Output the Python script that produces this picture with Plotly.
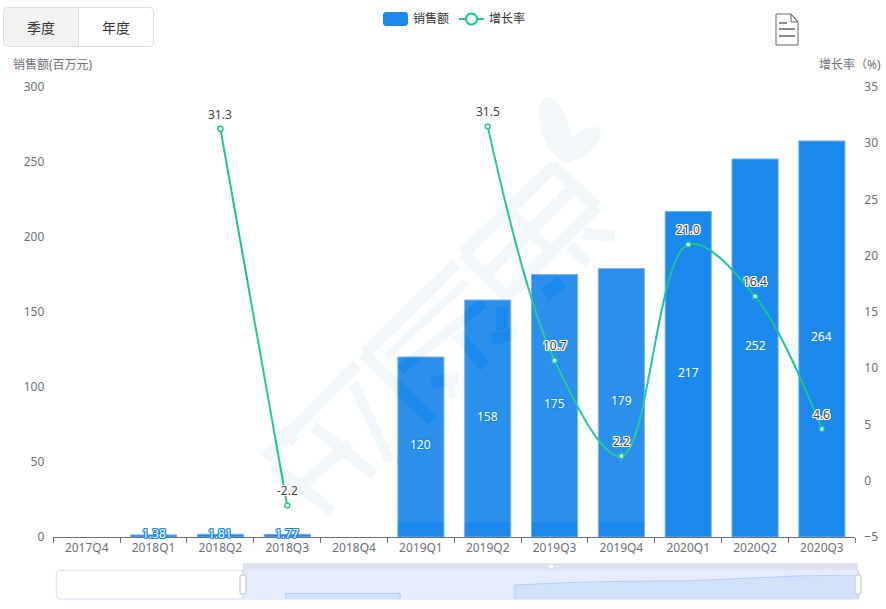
import math
import plotly.graph_objects as go

## Datos
quarters = ['2017Q4', '2018Q1', '2018Q2', '2018Q3', '2018Q4', '2019Q1',
            '2019Q2', '2019Q3', '2019Q4', '2020Q1', '2020Q2', '2020Q3']
sales = [None, 1.38, 1.81, 1.77, None, 120, 158, 175, 179, 217, 252, 264]
sales_labels = ['', '1.38', '1.81', '1.77', '', '120', '158', '175', '179', '217', '252', '264']
growth = [None, None, 31.3, -2.2, None, None, 31.5, 10.7, 2.2, 21.0, 16.4, 4.6]
growth_labels = ['', '', '31.3', '-2.2', '', '', '31.5', '10.7', '2.2', '21.0', '16.4', '4.6']
sales_ticks = [0, 50, 100, 150, 200, 250, 300]
growth_ticks = [-5, 0, 5, 10, 15, 20, 25, 30, 35]
preview_x = [3, 4, 5, 6, 7, 8, 9, 10, 11, 12, 13, 14]
preview_base = 80  # the slider shadow does not start at zero

W, H = 886, 609
FONT = 'Noto Sans, Noto Sans CJK SC'
BLUE = '#1B88EB'
GREEN = '#17C595'
GREY = '#6E7079'


def px(x):
    return x / W


def py(y):
    return 1 - y / H


def path_of(points):
    return 'M' + 'L'.join(f'{px(x):.5f},{py(y):.5f}' for x, y in points) + 'Z'


def paper_shape(path, **kw):
    return dict(type='path', xref='paper', yref='paper', path=path, fillrule='nonzero', **kw)


def round_rect(x0, y0, x1, y1, r):
    pts = []
    for cx, cy, a0 in [(x1 - r, y0 + r, -90), (x1 - r, y1 - r, 0), (x0 + r, y1 - r, 90), (x0 + r, y0 + r, 180)]:
        for s in range(5):
            a = math.radians(a0 + s * 22.5)
            pts.append((cx + r * math.cos(a), cy + r * math.sin(a)))
    return pts


def left_round(x0, y0, x1, y1, r):
    pts = [(x1, y0), (x1, y1)]
    for cx, cy, a0 in [(x0 + r, y1 - r, 90), (x0 + r, y0 + r, 180)]:
        for s in range(5):
            a = math.radians(a0 + s * 22.5)
            pts.append((cx + r * math.cos(a), cy + r * math.sin(a)))
    return pts


def note(x, y, text, size=12, color=GREY, anchor='left'):
    return dict(xref='paper', yref='paper', x=px(x), y=py(y), text=text, showarrow=False,
                xanchor=anchor, yanchor='middle', font=dict(family=FONT, size=size, color=color))


wm_strokes = [
    # caracter derecho
    (640, 490, 915, 225, 36), (705, 555, 980, 285, 36), (770, 620, 1040, 350, 36),
    (905, 225, 1040, 350, 36), (775, 360, 905, 485, 30), (640, 490, 770, 620, 36),
    (1000, 430, 1095, 438, 34), (960, 470, 1015, 520, 32), (885, 615, 935, 575, 40),
    # caracter central
    (345, 790, 620, 520, 36), (410, 800, 650, 575, 24), (450, 840, 700, 640, 30),
    (340, 790, 545, 990, 36), (620, 730, 705, 830, 36), (545, 880, 625, 860, 34),
    (725, 750, 800, 725, 36), (757, 650, 755, 725, 34), (600, 880, 610, 925, 24),
    # caracter izquierdo
    (45, 1105, 320, 825, 36), (190, 1010, 375, 1155, 34), (310, 880, 420, 1115, 30),
    (150, 1190, 300, 1060, 34), (70, 1130, 205, 1230, 36), (200, 1225, 245, 1265, 32),
    (95, 1015, 135, 1060, 28),
]


def strip(x0, y0, x1, y1, w):
    x0, y0, x1, y1 = 250 + x0 / 3, 90 + y0 / 3, 250 + x1 / 3, 90 + y1 / 3
    w = w / 3
    d = math.hypot(x1 - x0, y1 - y0)
    nx, ny = -(y1 - y0) / d * w / 2, (x1 - x0) / d * w / 2
    pts = [(x0 + nx, y0 + ny), (x1 + nx, y1 + ny), (x1 - nx, y1 - ny), (x0 - nx, y0 - ny)]
    area = sum(pts[i][0] * pts[(i + 1) % 4][1] - pts[(i + 1) % 4][0] * pts[i][1] for i in range(4))
    return pts if area < 0 else pts[::-1]  # always the opposite way round to the overlay box


def leaf(cx, cy, a, b, angle):
    t = math.radians(angle)
    pts = []
    for s in range(36):
        p = math.radians(s * 10)
        u, v = a * math.cos(p), b * math.sin(p)
        pts.append((cx + u * math.cos(t) - v * math.sin(t), cy + u * math.sin(t) + v * math.cos(t)))
    return pts


wm_paths = ''.join(path_of(strip(*s)) for s in wm_strokes)
wm_leaves = path_of(leaf(555, 128, 32, 14, 73)) + path_of(leaf(580, 145, 26, 11, -37))
veil_box = path_of([(250, 90), (655, 90), (655, 522), (250, 522)])

shapes = [
    # watermark: tint on white, and a thin white veil over the bars with the glyphs cut out
    paper_shape(wm_paths + wm_leaves, layer='below', fillcolor='#F1F7FA', line_width=0),
    paper_shape(veil_box + wm_paths, layer='above', fillcolor='rgba(255,255,255,0.075)', line_width=0),
    # botones
    paper_shape(path_of(left_round(3.5, 7.5, 78, 46, 4)), layer='below', fillcolor='#F2F2F2', line_width=0),
    paper_shape(path_of(round_rect(3.5, 7.5, 153.5, 46.5, 4)), layer='below',
                fillcolor='rgba(0,0,0,0)', line=dict(color='#DDDDDD', width=1)),
    paper_shape(path_of([(78.5, 7.5), (78.5, 46.5)]), layer='below', line=dict(color='#DDDDDD', width=1)),
    # leyenda
    paper_shape(path_of(round_rect(383, 12, 408, 26, 3)), fillcolor=BLUE, line_width=0),
    paper_shape(path_of([(459, 19), (484, 19)]), line=dict(color=GREEN, width=2)),
    paper_shape(path_of(leaf(471.5, 19, 5.5, 5.5, 0)), fillcolor='white', line=dict(color=GREEN, width=2)),
    # icono
    paper_shape(path_of([(776, 14), (791, 14), (798, 22), (798, 45), (776, 45)]), fillcolor='white',
                line=dict(color='#666666', width=1)),
    paper_shape(path_of([(791, 14), (791, 22), (798, 22)]), line=dict(color='#666666', width=1)),
    paper_shape(path_of([(779, 23), (787, 23)]), line=dict(color='#666666', width=1)),
    paper_shape(path_of([(779, 29), (795, 29)]), line=dict(color='#666666', width=1)),
    paper_shape(path_of([(779, 36), (795, 36)]), line=dict(color='#666666', width=1)),
    # slider
    paper_shape(path_of(round_rect(56.5, 570.5, 859, 599, 3)), layer='below', fillcolor='white',
                line=dict(color='#E2E7F5', width=1.5)),
    paper_shape(path_of([(243, 570), (858, 570), (858, 599), (243, 599)]), layer='below',
                fillcolor='#E5ECFD', line_width=0),
    paper_shape(path_of([(243, 563), (858, 563), (858, 570), (243, 570)]), layer='below',
                fillcolor='#DEE3EF', line_width=0),
    paper_shape(path_of([(549, 565), (553, 565), (553, 568), (549, 568)]), fillcolor='white', line_width=0),
    paper_shape(path_of([(243, 570), (243, 599)]), line=dict(color='#D2D8EA', width=1)),
    paper_shape(path_of([(858, 570), (858, 599)]), line=dict(color='#D2D8EA', width=1)),
    paper_shape(path_of(round_rect(240, 575, 246, 594, 2)), fillcolor='white', line=dict(color='#CDD4E6', width=1.5)),
    paper_shape(path_of(round_rect(855, 575, 861, 594, 2)), fillcolor='white', line=dict(color='#CDD4E6', width=1.5)),
]

halo = [(-1, 0), (1, 0), (0, -1), (0, 1), (-1, -1), (1, 1), (-1, 1), (1, -1)]
halo_white = ','.join(f'{a}px {b}px 0 #FFFFFF' for a, b in halo)
halo_blue = ','.join(f'{a}px {b}px 0 {BLUE}' for a, b in halo)

## Etiquetas
annotations = [
    note(40.5, 27, '季度', 14, '#333333', 'center'), note(116, 27, '年度', 14, '#333333', 'center'),
    note(411, 18.5, '销售额', 12, '#333333'), note(487, 18.5, '增长率', 12, '#333333'),
    note(11, 64.5, '销售额(百万元)'), note(883, 64.5, '增长率（%)', anchor='right'),
]
for q, v, t in zip(quarters, sales, sales_labels):
    if v is not None:
        annotations.append(dict(x=q, y=v / 2, xref='x', yref='y', text=t, showarrow=False, yanchor='middle',
                                yshift=2, font=dict(family=FONT, size=12, color='white', shadow=halo_blue)))
for q, v, t in zip(quarters, growth, growth_labels):
    if v is not None:
        annotations.append(dict(x=q, y=v, xref='x', yref='y2', text=t, showarrow=False, yanchor='middle',
                                yshift=14.5, font=dict(family=FONT, size=12, color='#444444', shadow=halo_white)))

## Sombra del slider: cada tramo baja hasta la base
shadow_x, shadow_y = [], []
for i, v in enumerate(sales):
    prev_v = sales[i - 1] if i > 0 else None
    next_v = sales[i + 1] if i < len(sales) - 1 else None
    if v is None:
        shadow_x.append(preview_x[i])
        shadow_y.append(None)
        continue
    if prev_v is None:
        shadow_x.append(preview_x[i])
        shadow_y.append(0)
    shadow_x.append(preview_x[i])
    shadow_y.append(v + preview_base)
    if next_v is None:
        shadow_x.append(preview_x[i])
        shadow_y.append(0)

#### Graficar
fig = go.Figure()
fig.add_trace(go.Bar(x=quarters, y=sales, name='销售额', width=0.69, cliponaxis=False,
                     marker=dict(color=BLUE, line=dict(color='#6FB0F1', width=1))))
fig.add_trace(go.Scatter(x=quarters, y=growth, name='增长率', yaxis='y2', mode='lines+markers', cliponaxis=False,
                         line=dict(color=GREEN, width=2, shape='spline', smoothing=1.0),
                         marker=dict(size=5, color='white', line=dict(color=GREEN, width=1.5))))
fig.add_trace(go.Scatter(x=shadow_x, y=shadow_y, xaxis='x3', yaxis='y3', mode='lines', fill='tozeroy',
                         fillcolor='#D3E2FB', line=dict(color='#B5CDF8', width=1), hoverinfo='skip'))

fig.update_layout(
    width=W, height=H, showlegend=False, margin=dict(l=0, r=0, t=0, b=0),
    paper_bgcolor='white', plot_bgcolor='rgba(0,0,0,0)',
    font=dict(family=FONT, size=12, color=GREY),
    shapes=shapes,
    annotations=annotations,
    xaxis=dict(domain=[px(53.3), px(855.3)], type='category', categoryorder='array', categoryarray=quarters,
               tickson='boundaries', ticks='outside', ticklen=5, tickcolor=GREY, showline=True, linecolor=GREY,
               showgrid=False, zeroline=False, anchor='y', tickfont=dict(size=12, color=GREY),
               range=[-0.5, 11.5], fixedrange=True, automargin=False),
    yaxis=dict(domain=[py(537), py(87)], range=[0, 300], tickvals=sales_ticks, showgrid=False, zeroline=False,
               showline=False, ticks='', ticklabelstandoff=8, anchor='x', tickfont=dict(size=12, color=GREY),
               automargin=False),
    yaxis2=dict(domain=[py(537), py(87)], range=[-5, 35], tickvals=growth_ticks, overlaying='y', side='right',
                anchor='x', showgrid=False, zeroline=False, showline=False, ticks='', ticklabelstandoff=8,
                tickfont=dict(size=12, color=GREY), automargin=False),
    xaxis3=dict(domain=[px(56), px(859)], range=[0, 14], visible=False, anchor='y3', automargin=False),
    yaxis3=dict(domain=[py(599), py(575)], range=[0, 344], visible=False, anchor='x3', automargin=False),
)

fig.write_html('out.html', config={'displayModeBar': False}, post_script="document.body.style.margin='0';")
